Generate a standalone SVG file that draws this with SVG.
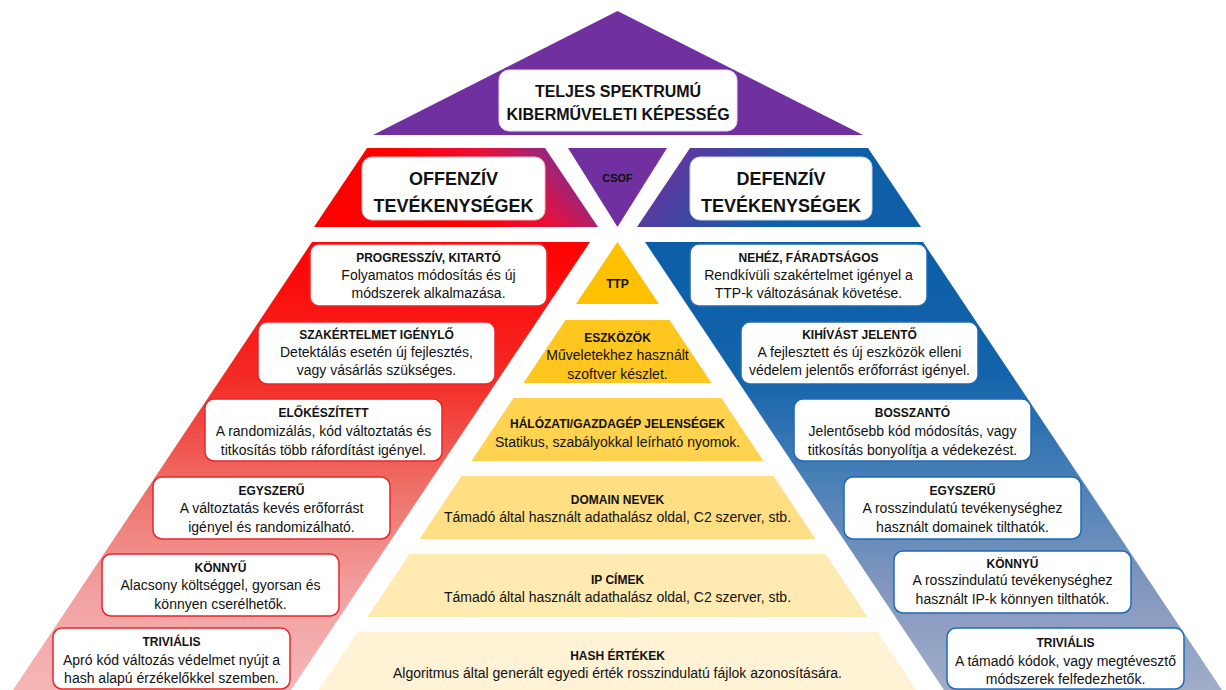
<svg xmlns="http://www.w3.org/2000/svg" width="1226" height="690" viewBox="0 0 1226 690">
<defs>
<linearGradient id="gOff" gradientUnits="userSpaceOnUse" x1="480" y1="232" x2="572" y2="146">
<stop offset="0" stop-color="#FF0000"/><stop offset="0.45" stop-color="#E8103A"/><stop offset="1" stop-color="#7030A0"/>
</linearGradient>
<linearGradient id="gDef" gradientUnits="userSpaceOnUse" x1="665" y1="150" x2="765" y2="228">
<stop offset="0" stop-color="#6A32A0"/><stop offset="1" stop-color="#0E5EA8"/>
</linearGradient>
<linearGradient id="gRed" gradientUnits="userSpaceOnUse" x1="0" y1="242" x2="0" y2="690">
<stop offset="0" stop-color="#FF0000"/><stop offset="0.3" stop-color="#F42A24"/><stop offset="0.55" stop-color="#EE7068"/><stop offset="0.78" stop-color="#F2A0A0"/><stop offset="1" stop-color="#F6B6B6"/>
</linearGradient>
<linearGradient id="gBlue" gradientUnits="userSpaceOnUse" x1="0" y1="242" x2="0" y2="690">
<stop offset="0" stop-color="#0B5EA7"/><stop offset="0.3" stop-color="#1464AB"/><stop offset="0.55" stop-color="#4E82B8"/><stop offset="0.78" stop-color="#8498BE"/><stop offset="1" stop-color="#A0ADC9"/>
</linearGradient>
</defs>
<style>
text{font-family:"Liberation Sans",Arial,sans-serif;fill:#111;text-anchor:middle}
.t{font-size:12px;font-weight:bold}
.b{font-size:14px}
.h1{font-size:16px;font-weight:bold}
.h2{font-size:18px;font-weight:bold}
.boxW{fill:#fff}
.boxR{fill:#fff;stroke:#E8262C;stroke-width:1.5}
.boxB{fill:#fff;stroke:#1F6BB5;stroke-width:1.5}
.purple{fill:#7030A0}
</style>

<g id="top">
<polygon class="purple" points="617.5,11 863,135 373,135"/>
<rect class="boxW" x="499" y="70" width="238" height="61" rx="10" stroke="#E8DDF0" stroke-width="1"/>
<text class="h1" x="618" y="97">TELJES SPEKTRUMÚ</text>
<text class="h1" x="618" y="120">KIBERMŰVELETI KÉPESSÉG</text>
</g>

<g id="offenziv">
<polygon fill="url(#gOff)" points="367,148 545,148 598,227 314,227"/>
<rect class="boxW" x="362" y="157" width="183" height="63" rx="10" stroke="#F2B8C0" stroke-width="1"/>
<text class="h2" x="453.5" y="185">OFFENZÍV</text>
<text class="h2" x="453.5" y="212">TEVÉKENYSÉGEK</text>
</g>

<g id="csof">
<polygon class="purple" points="568,148 667,148 617.5,227"/>
<text style="font-size:11px;font-weight:bold" x="617.5" y="182">CSOF</text>
</g>

<g id="defenziv">
<polygon fill="url(#gDef)" points="690,148 868,148 921,227 637,227"/>
<rect class="boxW" x="690" y="157" width="182" height="63" rx="10" stroke="#C8D8EC" stroke-width="1"/>
<text class="h2" x="781" y="185">DEFENZÍV</text>
<text class="h2" x="781" y="212">TEVÉKENYSÉGEK</text>
</g>

<g id="offense-band">
<polygon fill="url(#gRed)" points="312,242 590,242 289,693 11,693"/>
</g>
<g id="defense-band">
<polygon fill="url(#gBlue)" points="645,242 923,242 1224,693 946,693"/>
</g>

<g id="ttp">
<polygon fill="#FFC000" points="617.5,242 659,304 576,304"/>
<text class="t" x="617.5" y="287.5">TTP</text>
</g>
<g id="eszkozok">
<polygon fill="#FFC61F" points="565.5,320 669.5,320 711.5,383 523.5,383"/>
<text class="t" x="617.5" y="341.5">ESZKÖZÖK</text>
<text class="b" x="617.5" y="360">Műveletekhez használt</text>
<text class="b" x="617.5" y="379">szoftver készlet.</text>
</g>
<g id="halozati">
<polygon fill="#FFD24F" points="513.5,398 721.5,398 763.5,461 471.5,461"/>
<text class="t" x="617.5" y="427.5">HÁLÓZATI/GAZDAGÉP JELENSÉGEK</text>
<text class="b" x="617.5" y="447">Statikus, szabályokkal leírható nyomok.</text>
</g>
<g id="domain">
<polygon fill="#FFDE84" points="461.5,476 773.5,476 815.5,539 419.5,539"/>
<text class="t" x="617.5" y="503.5">DOMAIN NEVEK</text>
<text class="b" x="617.5" y="522">Támadó által használt adathalász oldal, C2 szerver, stb.</text>
</g>
<g id="ip">
<polygon fill="#FFEAB2" points="409.5,554 825.5,554 867.5,617 367.5,617"/>
<text class="t" x="617.5" y="583.5">IP CÍMEK</text>
<text class="b" x="617.5" y="602">Támadó által használt adathalász oldal, C2 szerver, stb.</text>
</g>
<g id="hash">
<polygon fill="#FFF2D5" points="357.5,632 877.5,632 919.5,695 315.5,695"/>
<text class="t" x="617.5" y="659.5">HASH ÉRTÉKEK</text>
<text class="b" x="617.5" y="678">Algoritmus által generált egyedi érték rosszindulatú fájlok azonosítására.</text>
</g>

<g id="off-progressziv">
<rect class="boxR" x="310" y="244" width="237" height="62" rx="9"/>
<text class="t" x="428.5" y="261.5">PROGRESSZÍV, KITARTÓ</text>
<text class="b" x="428.5" y="280">Folyamatos módosítás és új</text>
<text class="b" x="428.5" y="298">módszerek alkalmazása.</text>
</g>
<g id="off-szakertelmet">
<rect class="boxR" x="258" y="322" width="237" height="62" rx="9"/>
<text class="t" x="376.5" y="338.5">SZAKÉRTELMET IGÉNYLŐ</text>
<text class="b" x="376.5" y="357">Detektálás esetén új fejlesztés,</text>
<text class="b" x="376.5" y="375">vagy vásárlás szükséges.</text>
</g>
<g id="off-elokeszitett">
<rect class="boxR" x="205" y="399" width="237" height="62" rx="9"/>
<text class="t" x="323.5" y="416.5">ELŐKÉSZÍTETT</text>
<text class="b" x="323.5" y="436">A randomizálás, kód változtatás és</text>
<text class="b" x="323.5" y="455">titkosítás több ráfordítást igényel.</text>
</g>
<g id="off-egyszeru">
<rect class="boxR" x="153" y="477" width="237" height="62" rx="9"/>
<text class="t" x="271.5" y="494.5">EGYSZERŰ</text>
<text class="b" x="271.5" y="513">A változtatás kevés erőforrást</text>
<text class="b" x="271.5" y="532">igényel és randomizálható.</text>
</g>
<g id="off-konnyu">
<rect class="boxR" x="102" y="554" width="237" height="62" rx="9"/>
<text class="t" x="220.5" y="571.5">KÖNNYŰ</text>
<text class="b" x="220.5" y="590">Alacsony költséggel, gyorsan és</text>
<text class="b" x="220.5" y="609">könnyen cserélhetők.</text>
</g>
<g id="off-trivialis">
<rect class="boxR" x="53" y="628" width="237" height="61" rx="9"/>
<text class="t" x="171.5" y="645.5">TRIVIÁLIS</text>
<text class="b" x="171.5" y="665">Apró kód változás védelmet nyújt a</text>
<text class="b" x="171.5" y="683">hash alapú érzékelőkkel szemben.</text>
</g>

<g id="def-nehez">
<rect class="boxB" x="690" y="244" width="237" height="62" rx="9"/>
<text class="t" x="808.5" y="261.5">NEHÉZ, FÁRADTSÁGOS</text>
<text class="b" x="808.5" y="280">Rendkívüli szakértelmet igényel a</text>
<text class="b" x="808.5" y="298">TTP-k változásának követése.</text>
</g>
<g id="def-kihivast">
<rect class="boxB" x="741" y="322" width="237" height="62" rx="9"/>
<text class="t" x="859.5" y="338.5">KIHÍVÁST JELENTŐ</text>
<text class="b" x="859.5" y="357">A fejlesztett és új eszközök elleni</text>
<text class="b" x="859.5" y="375">védelem jelentős erőforrást igényel.</text>
</g>
<g id="def-bosszanto">
<rect class="boxB" x="794" y="399" width="237" height="62" rx="9"/>
<text class="t" x="912.5" y="416.5">BOSSZANTÓ</text>
<text class="b" x="912.5" y="436">Jelentősebb kód módosítás, vagy</text>
<text class="b" x="912.5" y="455">titkosítás bonyolítja a védekezést.</text>
</g>
<g id="def-egyszeru">
<rect class="boxB" x="844" y="477" width="237" height="62" rx="9"/>
<text class="t" x="962.5" y="494.5">EGYSZERŰ</text>
<text class="b" x="962.5" y="513">A rosszindulatú tevékenységhez</text>
<text class="b" x="962.5" y="532">használt domainek tilthatók.</text>
</g>
<g id="def-konnyu">
<rect class="boxB" x="894" y="551" width="237" height="62" rx="9"/>
<text class="t" x="1012.5" y="567.5">KÖNNYŰ</text>
<text class="b" x="1012.5" y="585">A rosszindulatú tevékenységhez</text>
<text class="b" x="1012.5" y="604">használt IP-k könnyen tilthatók.</text>
</g>
<g id="def-trivialis">
<rect class="boxB" x="947" y="628" width="237" height="61" rx="9"/>
<text class="t" x="1065.5" y="646.5">TRIVIÁLIS</text>
<text class="b" x="1065.5" y="666">A támadó kódok, vagy megtévesztő</text>
<text class="b" x="1065.5" y="684">módszerek felfedezhetők.</text>
</g>

<g id="connectors"></g>
</svg>
